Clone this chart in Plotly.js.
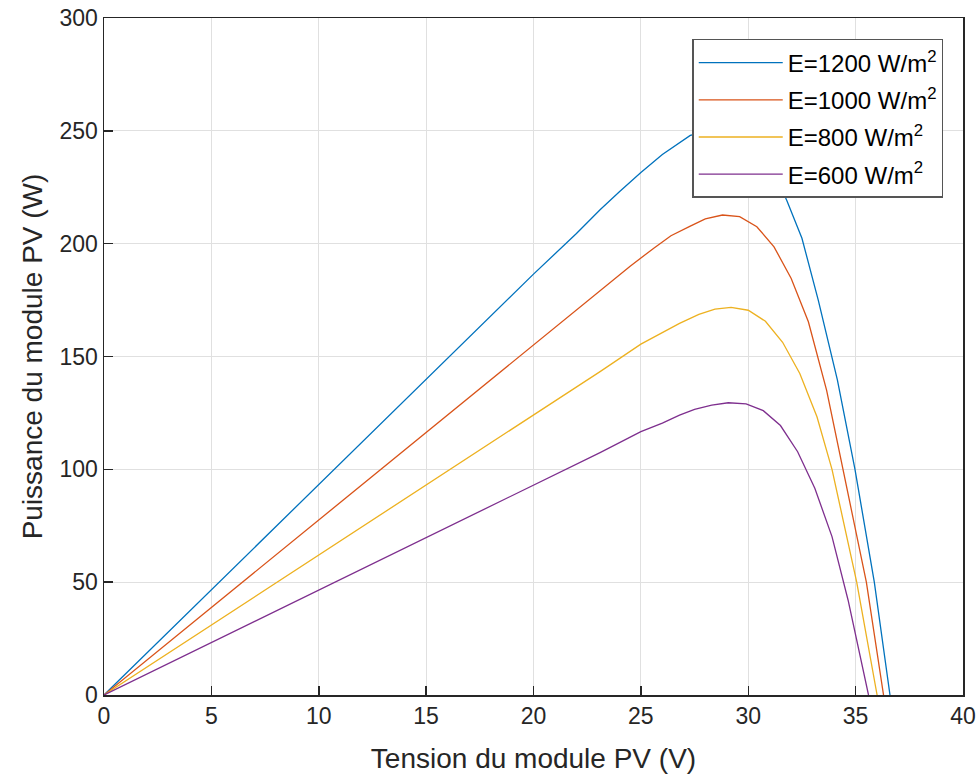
<!DOCTYPE html>
<html>
<head>
<meta charset="utf-8">
<script src="https://cdn.plot.ly/plotly-3.0.1.min.js"></script>
<style>
html,body{margin:0;padding:0;background:#fff;}
#chart{width:979px;height:776px;}
</style>
</head>
<body>
<div id="chart"></div>
<script>
// Series names
const seriesNames = ["E=1200 W/m<sup>2</sup>", "E=1000 W/m<sup>2</sup>", "E=800 W/m<sup>2</sup>", "E=600 W/m<sup>2</sup>"];
const seriesColors = ["#0072BD", "#D95319", "#EDB120", "#7E2F8E"];

// Voltage (V) and power (W)
const v1200 = [0, 5, 10, 15, 20, 22, 23.1, 24, 25, 26, 27.3, 28.2, 29.0, 29.8, 30.6, 31.2, 31.8, 32.5, 33.26, 34.15, 34.97, 35.87, 36.6];
const p1200 = [0, 46.7, 93.4, 140, 186.5, 204.5, 215, 223, 231.5, 239.5, 248, 250, 250.5, 248, 241, 232, 219, 202.4, 175, 139.6, 100, 50, 0];

const v1000 = [0, 5, 10, 15, 20, 23.1, 24.5, 25.6, 26.4, 27.3, 28.0, 28.8, 29.6, 30.4, 31.2, 32.0, 32.8, 33.65, 34.4, 35.5, 36.3];
const p1000 = [0, 38.8, 77.5, 116.3, 155, 179, 190, 198, 203.5, 207.8, 211, 212.7, 212, 207.5, 198.6, 184.6, 165.4, 135, 100, 50, 0];

const v800 = [0, 5, 10, 15, 20, 23.1, 25.0, 26.0, 26.8, 27.7, 28.45, 29.2, 30.0, 30.8, 31.6, 32.4, 33.2, 33.9, 35.05, 36.0];
const p800 = [0, 31, 62, 93, 124, 143.3, 155.5, 160.5, 164.7, 168.7, 171, 171.8, 170.5, 165.6, 156.3, 142.5, 123.3, 100, 50, 0];

const v600 = [0, 5, 10, 15, 20, 23.1, 25.0, 26.0, 26.8, 27.5, 28.3, 29.07, 29.9, 30.7, 31.5, 32.3, 33.1, 33.9, 34.65, 35.6];
const p600 = [0, 23.3, 46.5, 69.8, 93, 107.4, 116.7, 120.5, 124, 126.6, 128.5, 129.5, 129, 126, 119.4, 107.8, 91.6, 70.2, 42, 0];

const xs = [v1200, v1000, v800, v600];
const ys = [p1200, p1000, p800, p600];

const xTicks = [0, 5, 10, 15, 20, 25, 30, 35, 40];
const yTicks = [0, 50, 100, 150, 200, 250, 300];

const FONT = "Liberation Sans, Arial, Helvetica, sans-serif";

const traces = xs.map((x, i) => ({
  x: x, y: ys[i], type: "scatter", mode: "lines",
  name: seriesNames[i],
  legendgroup: "g" + i,
  line: {color: seriesColors[i], width: 1.3}
}));

const axisCommon = {
  showline: true, linecolor: "#262626", linewidth: 1.5, mirror: true,
  ticks: "inside", ticklen: 9, tickwidth: 1.5, tickcolor: "#262626",
  showgrid: true, gridcolor: "#e0e0e0", gridwidth: 1,
  zeroline: false,
  tickfont: {family: FONT, size: 23, color: "#262626"}
};

const layout = {
  width: 979, height: 776,
  margin: {l: 104, r: 16, t: 18, b: 81},
  paper_bgcolor: "#ffffff", plot_bgcolor: "#ffffff",
  font: {family: FONT, color: "#262626"},
  showlegend: true,
  legend: {
    x: 0.977, y: 0.969, xanchor: "right", yanchor: "top",
    bgcolor: "#ffffff", bordercolor: "#555555", borderwidth: 1.5,
    font: {family: FONT, size: 24, color: "#000000"},
    itemwidth: 84, tracegroupgap: 3
  },
  xaxis: Object.assign({}, axisCommon, {
    range: [0, 40], tickvals: xTicks, ticktext: xTicks.map(String),
    title: {text: "Tension du module PV (V)", font: {family: FONT, size: 28, color: "#262626"}, standoff: 20}
  }),
  yaxis: Object.assign({}, axisCommon, {
    range: [0, 300], tickvals: yTicks, ticktext: yTicks.map(String),
    title: {text: "Puissance du module PV (W)", font: {family: FONT, size: 28, color: "#262626"}, standoff: 8}
  })
};

Plotly.newPlot("chart", traces, layout, {displayModeBar: false, staticPlot: true});
</script>
</body>
</html>
